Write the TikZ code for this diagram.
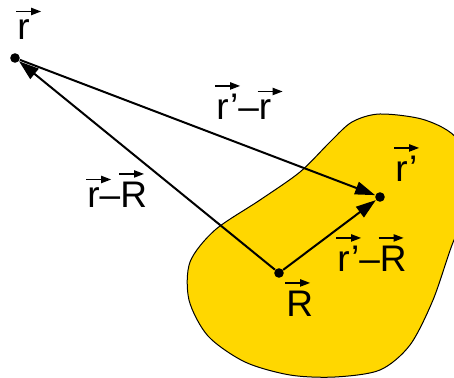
\documentclass[tikz,border=0pt]{standalone}
\usepackage{fontspec}
\setmainfont{Liberation Sans}
\usetikzlibrary{arrows.meta}
\definecolor{blobyellow}{RGB}{255,215,0}
\newcommand{\vecarrow}{\tikz[x=1pt,y=1pt]\draw[line width=0.75pt,-{Triangle[length=5pt,width=3.6pt]}] (0,0) -- (12.5,0);}
\newcommand{\vecsym}[1]{\leavevmode\vbox{\offinterlineskip\hbox{\kern-1pt\rlap{\vecarrow}}\kern2.5pt\hbox{#1}}}
\begin{document}
\begin{tikzpicture}[x=0.5pt,y=-0.5pt,font=\fontsize{18.5}{22}\selectfont,
  dot/.style={circle,fill,inner sep=0pt,minimum size=4.8pt},
  vecline/.style={line width=1pt,-{Triangle[length=10pt,width=6.5pt]}},
  lbl/.style={inner sep=0pt,anchor=base west}]
\useasboundingbox (0,0) rectangle (454,378);
\clip (0,0) rectangle (454,378);
\filldraw[fill=blobyellow,line width=0.5pt] plot[smooth cycle] coordinates {(380,114) (425,120) (458,140) (474,190) (452,245) (433,300) (410,345) (380,370) (335,377) (290,375) (245,362) (208,336) (189,300) (190,262) (215,230) (260,200) (300,172) (330,142) (352,122)};
\node[dot] (r) at (15,58) {};
\node[dot] (rp) at (380,197) {};
\node[dot] (R) at (279,273) {};
\draw[vecline] (r) -- (rp);
\draw[vecline] (R) -- (r);
\draw[vecline] (R) -- (rp);
\node[lbl] (lr) at (17,40) {\vecsym{r}};
\node[lbl] (lrpr) at (216,120) {\vecsym{r'}--\vecsym{r}};
\node[lbl] (lrp) at (395,182) {\vecsym{r'}};
\node[lbl] (lrR) at (87,208) {\vecsym{r}--\vecsym{R}};
\node[lbl] (lrpR) at (337,272) {\vecsym{r'}--\vecsym{R}};
\node[lbl] (lR) at (286,317) {\vecsym{R}};
\end{tikzpicture}
\end{document}
